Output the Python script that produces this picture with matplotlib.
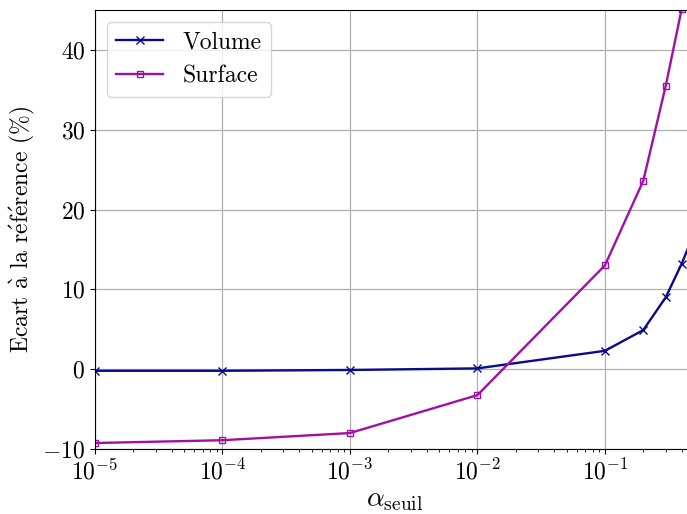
import matplotlib
matplotlib.use("Agg")
import matplotlib.pyplot as plt

plt.rcParams['font.family'] = ['cmr10', 'DejaVu Serif']
plt.rcParams['mathtext.fontset'] = 'cm'
plt.rcParams['axes.formatter.use_mathtext'] = True
plt.rcParams['font.size'] = 17

alpha = [1e-5, 1e-4, 1e-3, 1e-2, 0.1, 0.2, 0.3, 0.4, 0.5]
volume = [-0.2, -0.2, -0.1, 0.1, 2.3, 4.9, 9.0, 13.2, 17.0]
surface = [-9.25, -8.9, -8.0, -3.25, 13.0, 23.6, 35.5, 45.1, 58.0]

fig = plt.figure(figsize=(6.87, 5.14), dpi=100)
ax = fig.add_axes([95/687, 65/514, 599/687, 439/514])

ax.plot(alpha, volume, color='#0b0a8c', marker='x', markersize=5.5, linewidth=1.7, label='Volume')
ax.plot(alpha, surface, color='#a010a8', marker='s', markersize=5, markerfacecolor='none',
        linewidth=1.7, label='Surface')

ax.set_xscale('log')
ax.set_xlim(1e-5, 0.5)
ax.set_ylim(-10, 45)
ax.set_yticks([-10, 0, 10, 20, 30, 40])
ax.grid(True, which='major', color='#b0b0b0', linewidth=0.9)
ax.set_axisbelow(True)
ax.tick_params(labelsize=17)
ax.set_xlabel(r'$\alpha_{\mathrm{seuil}}$', fontsize=20, labelpad=2)
ax.set_ylabel(r'Ecart $\grave{\mathrm{a}}$ la r$\acute{\mathrm{e}}$f$\acute{\mathrm{e}}$rence (%)', fontsize=17)
ax.legend(loc='upper left', fontsize=17)

fig.savefig('out.png', dpi=100)
